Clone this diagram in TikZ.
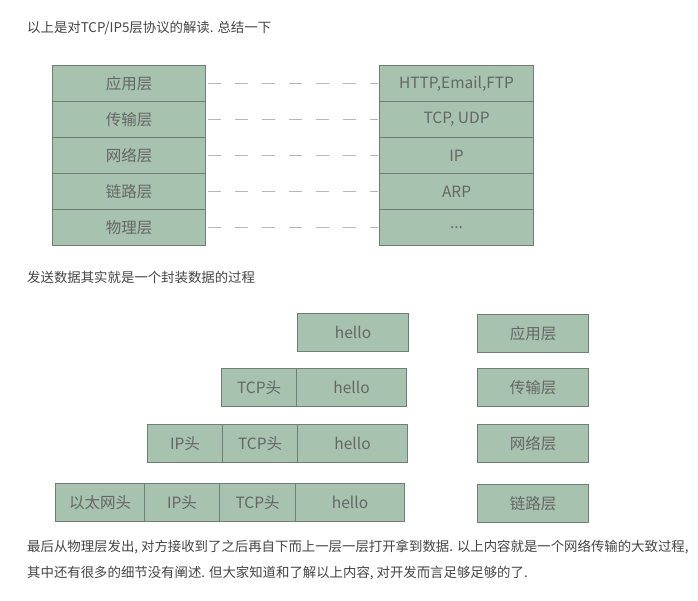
\documentclass[tikz,border=0pt]{standalone}
\usepackage{fontspec}
\setmainfont{Noto Sans CJK SC}
\definecolor{boxfill}{HTML}{A7C2AE}
\definecolor{boxline}{HTML}{6F7F74}
\definecolor{labelgray}{HTML}{666666}
\definecolor{textgray}{HTML}{454545}
\definecolor{dashgray}{HTML}{BFB3B3}
\begin{document}
\begin{tikzpicture}[x=1pt,y=-1pt,
  pbox/.style={draw=boxline, line width=1.1pt, fill=boxfill, text=labelgray,
    font=\fontsize{15.5}{17}\selectfont, inner sep=0pt, anchor=north west},
  lrow/.style={pbox, minimum width=153pt, minimum height=36pt},
  rrow/.style={pbox, minimum width=154pt, minimum height=36pt},
  ebox/.style={pbox, minimum height=37.5pt},
  para/.style={anchor=west, inner sep=0pt, text=textgray, font=\fontsize{13.4}{15}\selectfont},
  link/.style={draw=dashgray, line width=1.4pt, dash pattern=on 13pt off 14pt}]
\fill[white] (0,0) rectangle (698,600);
\useasboundingbox (0,0) rectangle (698,600);

\node[para] (t1) at (27,28) {以上是对TCP/IP5层协议的解读. 总结一下};

% left stack
\node[lrow] (l1) at (52,65) {应用层};
\node[lrow] (l2) at (52,101) {传输层};
\node[lrow] (l3) at (52,137) {网络层};
\node[lrow] (l4) at (52,173) {链路层};
\node[lrow] (l5) at (52,209) {物理层};
% right stack
\node[rrow] (r1) at (379,65) {HTTP,Email,FTP};
\node[rrow] (r2) at (379,101) {TCP, UDP};
\node[rrow] (r3) at (379,137) {IP};
\node[rrow] (r4) at (379,173) {ARP};
\node[rrow] (r5) at (379,209) {...};

\foreach \i in {1,...,5}{
  \draw[link] ([xshift=2pt]l\i.east) -- ([xshift=-1.5pt]r\i.west);
}

\node[para] (t2) at (27,277) {发送数据其实就是一个封装数据的过程};

% encapsulation
\node[ebox, minimum width=111pt] (h1) at (297,313) {hello};

\node[ebox, minimum width=75pt] (tcp2) at (221,368) {TCP头};
\node[ebox, minimum width=110pt] (h2) at (296,368) {hello};

\node[ebox, minimum width=75pt] (ip3) at (147,424) {IP头};
\node[ebox, minimum width=75pt] (tcp3) at (222,424) {TCP头};
\node[ebox, minimum width=110pt] (h3) at (297,424) {hello};

\node[ebox, minimum width=89pt] (eth4) at (55,483) {以太网头};
\node[ebox, minimum width=75pt] (ip4) at (144,483) {IP头};
\node[ebox, minimum width=76pt] (tcp4) at (219,483) {TCP头};
\node[ebox, minimum width=109pt] (h4) at (295,483) {hello};

% layer labels
\node[ebox, minimum width=111pt] (a1) at (477,314) {应用层};
\node[ebox, minimum width=111pt] (a2) at (477,368) {传输层};
\node[ebox, minimum width=111pt] (a3) at (477,424) {网络层};
\node[ebox, minimum width=111pt] (a4) at (477,484) {链路层};

\node[para] (t3) at (27,547) {最后从物理层发出, 对方接收到了之后再自下而上一层一层打开拿到数据. 以上内容就是一个网络传输的大致过程,};
\node[para] (t4) at (27,573) {其中还有很多的细节没有阐述. 但大家知道和了解以上内容, 对开发而言足够足够的了.};
\end{tikzpicture}
\end{document}
